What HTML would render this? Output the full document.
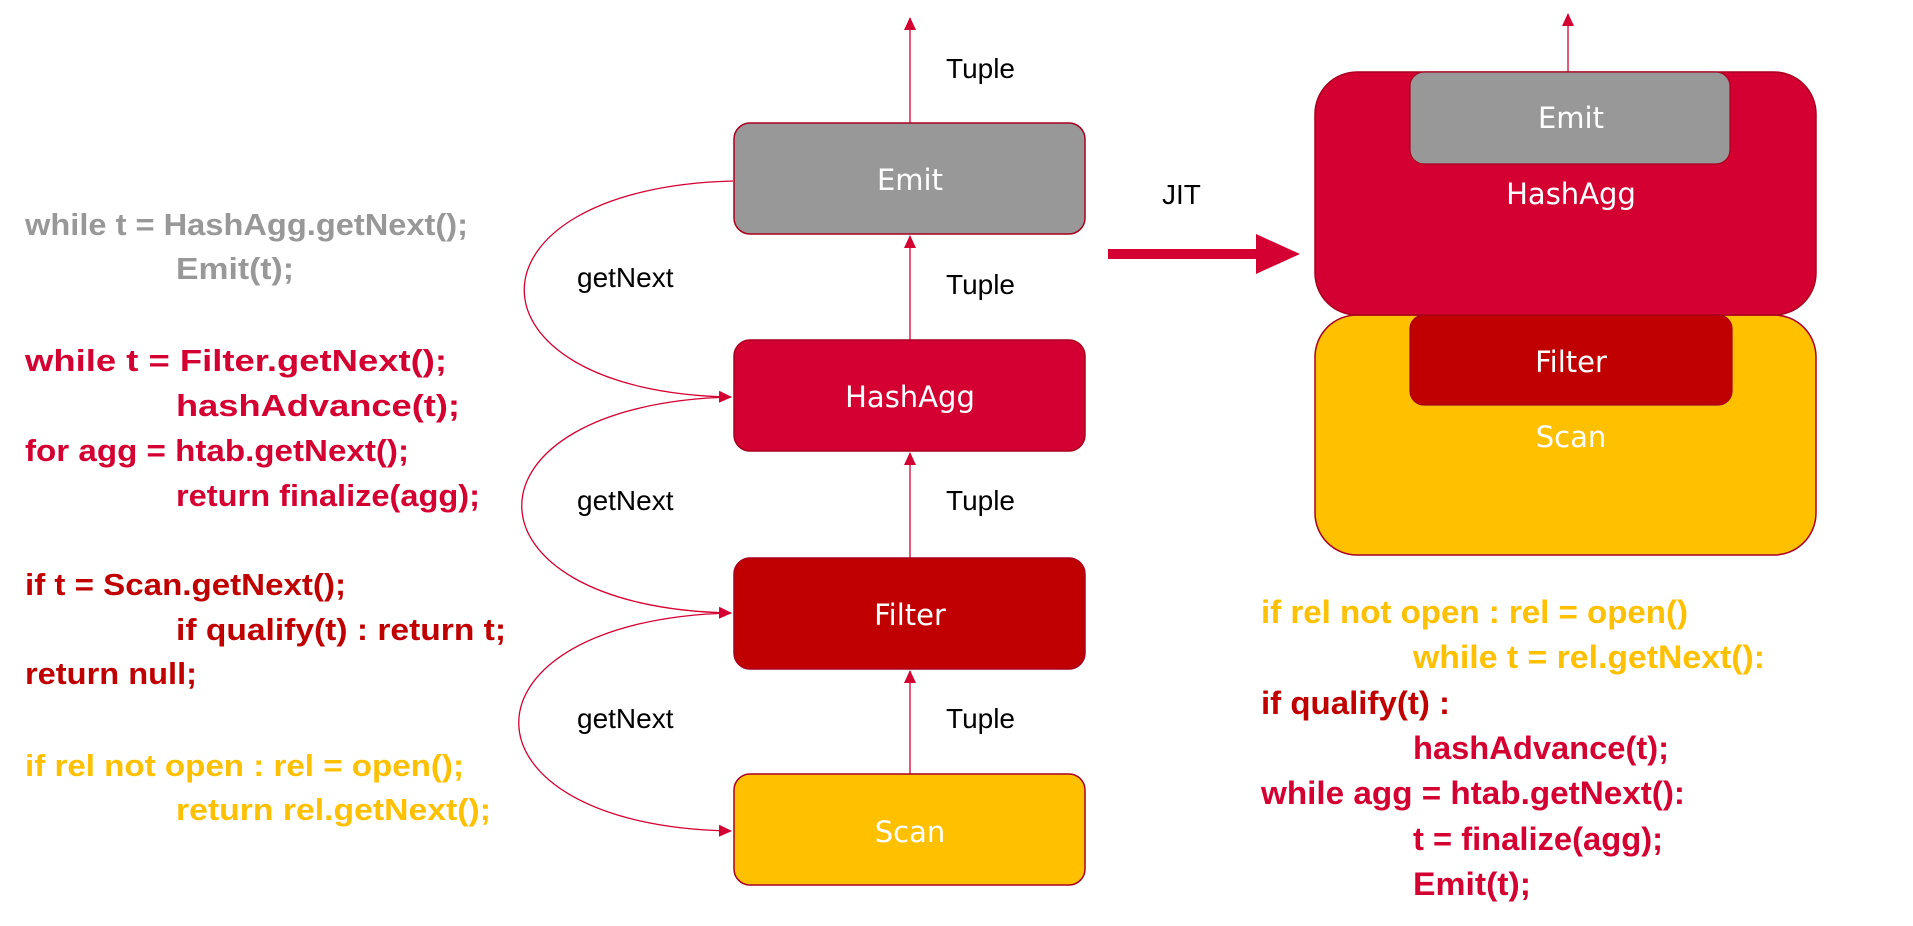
<!DOCTYPE html>
<html><head><meta charset="utf-8"><style>
html,body{margin:0;padding:0;background:#fff;}
svg{display:block;}
.c{font-family:"Liberation Sans",sans-serif;font-weight:bold;font-size:31px;}
.r{font-family:"Liberation Sans",sans-serif;font-weight:bold;font-size:32px;}
.l{font-family:"Liberation Sans",sans-serif;font-size:28px;fill:#000;}
.b{font-family:"DejaVu Sans","Liberation Sans",sans-serif;font-size:29px;fill:#fff;}
</style></head><body>
<svg width="1913" height="926" viewBox="0 0 1913 926" xmlns="http://www.w3.org/2000/svg">
<defs>
<marker id="au" markerWidth="14" markerHeight="14" refX="12" refY="7" orient="auto" markerUnits="userSpaceOnUse"><path d="M0,1 L13,7 L0,13 z" fill="#d50032"/></marker>
</defs>
<g class="c">
<text x="25" y="235" fill="#989898" textLength="443" lengthAdjust="spacingAndGlyphs">while t = HashAgg.getNext();</text>
<text x="176" y="279" fill="#989898" textLength="118" lengthAdjust="spacingAndGlyphs">Emit(t);</text>
<text x="25" y="371" fill="#d50032" textLength="422" lengthAdjust="spacingAndGlyphs">while t = Filter.getNext();</text>
<text x="176" y="416" fill="#d50032" textLength="284" lengthAdjust="spacingAndGlyphs">hashAdvance(t);</text>
<text x="25" y="461" fill="#d50032" textLength="384" lengthAdjust="spacingAndGlyphs">for agg = htab.getNext();</text>
<text x="176" y="506" fill="#d50032" textLength="304" lengthAdjust="spacingAndGlyphs">return finalize(agg);</text>
<text x="25" y="595" fill="#c00000" textLength="321" lengthAdjust="spacingAndGlyphs">if t = Scan.getNext();</text>
<text x="176" y="640" fill="#c00000" textLength="330" lengthAdjust="spacingAndGlyphs">if qualify(t) : return t;</text>
<text x="25" y="684" fill="#c00000" textLength="172" lengthAdjust="spacingAndGlyphs">return null;</text>
<text x="25" y="776" fill="#ffc000" textLength="439" lengthAdjust="spacingAndGlyphs">if rel not open : rel = open();</text>
<text x="176" y="820" fill="#ffc000" textLength="315" lengthAdjust="spacingAndGlyphs">return rel.getNext();</text>
</g>
<g stroke="#d50032" stroke-width="1.3" fill="none">
<line x1="910" y1="123" x2="910" y2="18" marker-end="url(#au)"/>
<line x1="910" y1="340" x2="910" y2="236" marker-end="url(#au)"/>
<line x1="910" y1="558" x2="910" y2="453" marker-end="url(#au)"/>
<line x1="910" y1="774" x2="910" y2="671" marker-end="url(#au)"/>
<path d="M733,181 C455,188 455,392 731,397" marker-end="url(#au)"/>
<path d="M731,397 C452,404 452,608 731,613" marker-end="url(#au)"/>
<path d="M731,613 C448,620 448,826 731,831" marker-end="url(#au)"/>
</g>
<rect x="734" y="123" width="351" height="111" rx="16" fill="#989898" stroke="#a8001f" stroke-width="1.5"/>
<rect x="734" y="340" width="351" height="111" rx="16" fill="#d50032" stroke="#a8001f" stroke-width="1.5"/>
<rect x="734" y="558" width="351" height="111" rx="16" fill="#c00000" stroke="#a8001f" stroke-width="1.5"/>
<rect x="734" y="774" width="351" height="111" rx="16" fill="#ffc000" stroke="#a8001f" stroke-width="1.5"/>
<g class="b" text-anchor="middle">
<text x="910" y="190">Emit</text>
<text x="910" y="407">HashAgg</text>
<text x="910" y="625">Filter</text>
<text x="910" y="842">Scan</text>
</g>
<g class="l">
<text x="946" y="78">Tuple</text>
<text x="946" y="294">Tuple</text>
<text x="946" y="510">Tuple</text>
<text x="946" y="728">Tuple</text>
<text x="577" y="287">getNext</text>
<text x="577" y="510">getNext</text>
<text x="577" y="728">getNext</text>
<text x="1162" y="204">JIT</text>
</g>
<rect x="1108" y="249" width="152" height="10" fill="#d50032"/>
<path d="M1256,234 L1300,254 L1256,274 z" fill="#d50032"/>
<line x1="1568" y1="72" x2="1568" y2="14" stroke="#d50032" stroke-width="1.3" marker-end="url(#au)"/>
<rect x="1315" y="315" width="501" height="240" rx="42" fill="#ffc000" stroke="#a8001f" stroke-width="1.5"/>
<rect x="1315" y="72" width="501" height="243" rx="42" fill="#d50032" stroke="#a8001f" stroke-width="1.5"/>
<rect x="1410" y="72" width="320" height="92" rx="14" fill="#989898" stroke="#a8001f" stroke-width="1.2"/>
<rect x="1410" y="315" width="322" height="90" rx="14" fill="#c00000" stroke="#a8001f" stroke-width="1.2"/>
<g class="b" text-anchor="middle">
<text x="1571" y="128">Emit</text>
<text x="1571" y="204">HashAgg</text>
<text x="1571" y="372">Filter</text>
<text x="1571" y="447">Scan</text>
</g>
<g class="r">
<text x="1261" y="623" fill="#ffc000" textLength="427" lengthAdjust="spacingAndGlyphs">if rel not open : rel = open()</text>
<text x="1413" y="668" fill="#ffc000" textLength="352" lengthAdjust="spacingAndGlyphs">while t = rel.getNext():</text>
<text x="1261" y="714" fill="#c00000" textLength="189" lengthAdjust="spacingAndGlyphs">if qualify(t) :</text>
<text x="1413" y="759" fill="#d50032" textLength="256" lengthAdjust="spacingAndGlyphs">hashAdvance(t);</text>
<text x="1261" y="804" fill="#d50032" textLength="424" lengthAdjust="spacingAndGlyphs">while agg = htab.getNext():</text>
<text x="1413" y="850" fill="#d50032" textLength="250" lengthAdjust="spacingAndGlyphs">t = finalize(agg);</text>
<text x="1413" y="895" fill="#d50032" textLength="118" lengthAdjust="spacingAndGlyphs">Emit(t);</text>
</g>
</svg>
</body></html>
